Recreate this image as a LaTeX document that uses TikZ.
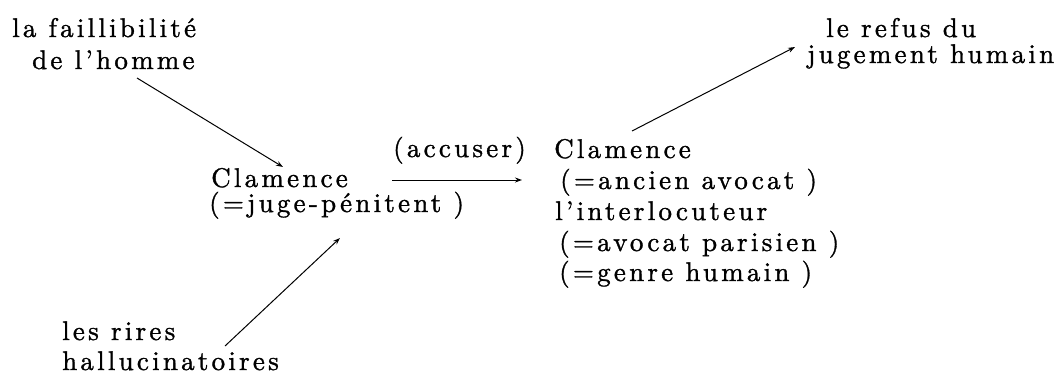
\documentclass[tikz,border=0pt]{standalone}
\usepackage{fontspec}
\usetikzlibrary{arrows.meta}
\newfontfamily\spacedfont{lmroman10-regular.otf}[LetterSpace=12,FakeBold=1.2]
\begin{document}
\begin{tikzpicture}[x=1pt,y=-1pt,
  lbl/.style={inner sep=0pt, anchor=base west, font=\spacedfont\fontsize{27}{31}\selectfont},
  arr/.style={line width=1pt, -{Stealth[length=7pt,width=5pt]}}]
\useasboundingbox (0,0) rectangle (1061,376);
% top left
\node[lbl] (fa1) at (12,37) {la faillibilité};
\node[lbl] (fa2) at (32,69) {de l’homme};
% left centre
\node[lbl] (cl1) at (211,187) {Clamence};
\node[lbl] (cl2) at (209,212) {(=juge-pénitent )};
% bottom left
\node[lbl] (ri1) at (62,340) {les rires};
\node[lbl] (ri2) at (62,370) {hallucinatoires};
% middle
\node[lbl] (acc) at (393,157) {(accuser)};
% right column
\node[lbl] (cr1) at (554,158) {Clamence};
\node[lbl] (cr2) at (560,189) {(=ancien avocat )};
\node[lbl] (cr3) at (555,220) {l’interlocuteur};
\node[lbl] (cr4) at (559,251) {(=avocat parisien )};
\node[lbl] (cr5) at (559,281) {(=genre humain )};
% top right
\node[lbl] (re1) at (826,37) {le refus du};
\node[lbl] (re2) at (807,63) {jugement humain};
% arrow ends
\coordinate (a1s) at (137,78);
\coordinate (a1e) at (283,167);
\coordinate (a2s) at (225,346);
\coordinate (a2e) at (340,238);
\coordinate (a3s) at (392,180);
\coordinate (a3e) at (522,180);
\coordinate (a4s) at (632,131);
\coordinate (a4e) at (795,47);
\draw[arr] (a1s) -- (a1e);
\draw[arr] (a2s) -- (a2e);
\draw[arr] (a3s) -- (a3e);
\draw[arr] (a4s) -- (a4e);
\end{tikzpicture}
\end{document}
